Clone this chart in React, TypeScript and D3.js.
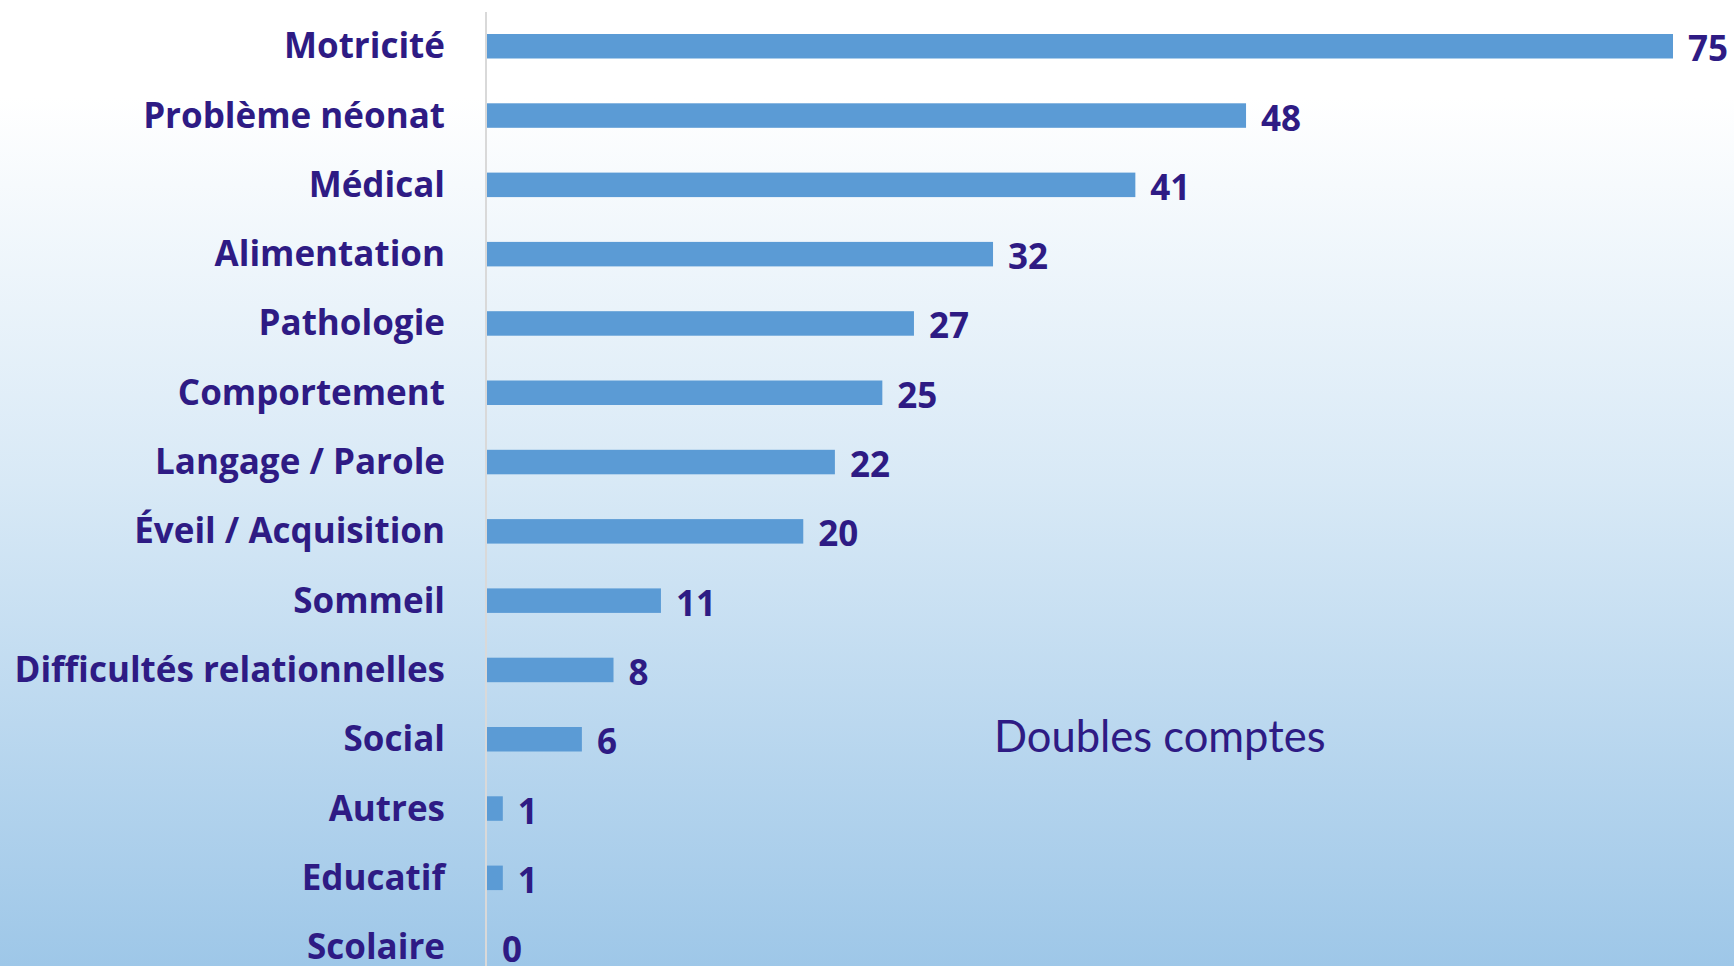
import React from "react";
import * as d3 from "d3";

const categories = [
  "Motricité",
  "Problème néonat",
  "Médical",
  "Alimentation",
  "Pathologie",
  "Comportement",
  "Langage / Parole",
  "Éveil / Acquisition",
  "Sommeil",
  "Difficultés relationnelles",
  "Social",
  "Autres",
  "Educatif",
  "Scolaire",
];
const values = [75, 48, 41, 32, 27, 25, 22, 20, 11, 8, 6, 1, 1, 0];
const annotation = "Doubles comptes";

const W = 1734;
const H = 966;
const TEXT = "#2E1B84";
const BAR = "#5B9BD5";
const FONT = "'Open Sans', Lato, sans-serif";
const FONT2 = "Lato, 'Open Sans', sans-serif";

export default function App() {
  const x = d3.scaleLinear().domain([0, 75]).range([487, 1673]);
  const y = d3
    .scaleBand<string>()
    .domain(categories)
    .range([-10.8, 1004.2])
    .padding(0.6465);
  const bw = y.bandwidth();
  const data = categories.map((c, i) => ({ c, v: values[i] }));

  return (
    <svg
      width={W}
      height={H}
      style={{ position: "absolute", left: 0, top: 0, display: "block" }}
    >
      <defs>
        <linearGradient id="bg" x1="0" y1="0" x2="0" y2={H} gradientUnits="userSpaceOnUse">
          <stop offset="0.1" stopColor="#ffffff" />
          <stop offset="0.5" stopColor="#d8e9f6" />
          <stop offset="1" stopColor="#9ec7e8" />
        </linearGradient>
      </defs>
      <rect x={0} y={0} width={W} height={H} fill="url(#bg)" />
      <line x1={486} x2={486} y1={12} y2={H} stroke="#d9d9d9" strokeWidth={2} />
      {data.map((d) => {
        const yc = (y(d.c) as number) + bw / 2;
        return (
          <g key={d.c}>
            {d.v > 0 && (
              <rect
                x={x(0)}
                y={y(d.c)}
                width={x(d.v) - x(0)}
                height={bw}
                fill={BAR}
              />
            )}
            <text
              x={445}
              y={yc + 12}
              textAnchor="end"
              fontFamily={FONT}
              fontWeight={700}
              fontSize={35}
              fill={TEXT}
            >
              {d.c}
            </text>
            <text
              x={x(d.v) + 15}
              y={yc + 15}
              fontFamily={FONT}
              fontWeight={700}
              fontSize={35}
              fill={TEXT}
            >
              {d.v}
            </text>
          </g>
        );
      })}
      <text
        x={994}
        y={752}
        fontFamily={FONT2}
        fontWeight={400}
        fontSize={43.5}
        fill={TEXT}
      >
        {annotation}
      </text>
    </svg>
  );
}
